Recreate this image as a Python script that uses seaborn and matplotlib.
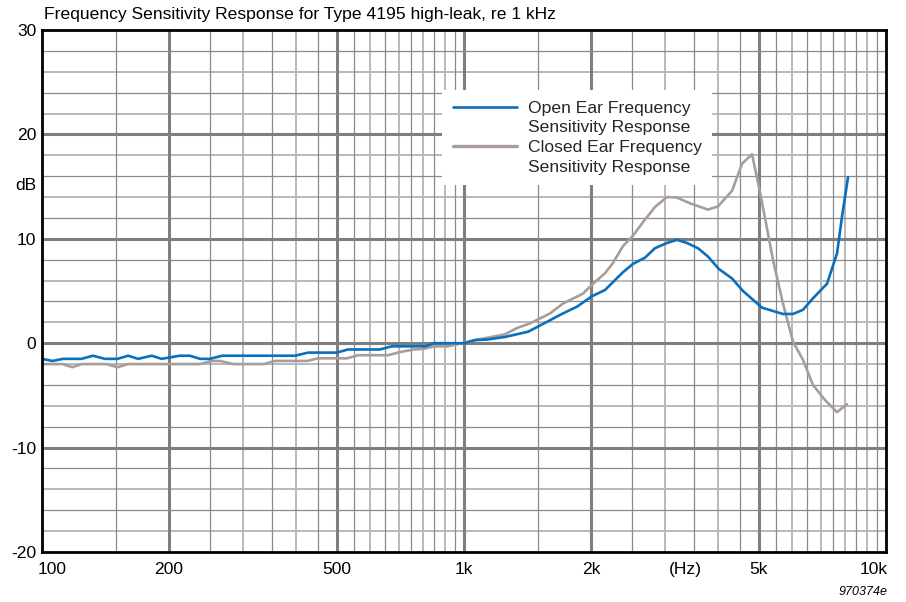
import matplotlib
matplotlib.use("Agg")
import matplotlib.pyplot as plt
import matplotlib.transforms as mtransforms
from matplotlib.lines import Line2D
import seaborn as sns
import pandas as pd

# ---- data ----
open_freq = [100, 106, 112, 124, 132, 141, 151, 160, 169, 182, 192, 212, 224, 237, 250, 267,
             300, 350, 398, 427, 500, 531, 632, 674, 809, 852, 1000, 1062, 1134, 1251, 1419,
             1599, 1706, 1853, 2011, 2159, 2381, 2515, 2686, 2835, 3027, 3197, 3376, 3585,
             3786, 4020, 4317, 4583, 5085, 5700, 6020, 6358, 6714, 7249, 7655, 7865, 8128]
open_db = [-1.5, -1.7, -1.5, -1.5, -1.2, -1.5, -1.5, -1.2, -1.5, -1.2, -1.5, -1.2, -1.2, -1.5,
           -1.5, -1.2, -1.2, -1.2, -1.2, -0.9, -0.9, -0.6, -0.6, -0.3, -0.3, 0.0, 0.0, 0.3,
           0.35, 0.6, 1.1, 2.2, 2.8, 3.5, 4.5, 5.1, 6.8, 7.6, 8.2, 9.1, 9.6, 9.9, 9.6, 9.1,
           8.3, 7.1, 6.2, 5.0, 3.4, 2.8, 2.8, 3.2, 4.3, 5.7, 8.6, 12.1, 15.9]

closed_freq = [100, 112, 118, 124, 142, 151, 160, 237, 253, 264, 284, 336, 356, 425, 451, 528,
               562, 661, 706, 760, 800, 852, 915, 1005, 1062, 1251, 1335, 1434, 1599, 1716,
               1914, 2022, 2159, 2255, 2381, 2515, 2656, 2835, 3027, 3197, 3431, 3786, 3998,
               4317, 4560, 4814, 5028, 5397, 5700, 6020, 6358, 6714, 7170, 7655, 8083]
closed_db = [-2.0, -2.0, -2.3, -2.0, -2.0, -2.3, -2.0, -2.0, -1.7, -1.7, -2.0, -2.0, -1.7, -1.7,
             -1.45, -1.45, -1.15, -1.15, -0.85, -0.6, -0.55, -0.3, -0.3, 0.05, 0.3, 0.85, 1.45,
             1.9, 2.85, 3.8, 4.75, 5.7, 6.7, 7.7, 9.3, 10.3, 11.6, 13.05, 14.0, 13.95, 13.4,
             12.8, 13.1, 14.6, 17.2, 18.1, 14.5, 8.0, 3.8, 0.15, -1.6, -4.0, -5.45, -6.6, -5.85]

x_tick_vals = [100, 200, 500, 1000, 2000, 3340, 5000, 10000]
x_tick_labels = ["100", "200", "500", "1k", "2k", "(Hz)", "5k", "10k"]
y_tick_vals = [-20, -10, 0, 10, 20, 30]
y_tick_labels = ["-20", "-10", "0", "10", "20", "30"]

series_labels = ["Open Ear Frequency\nSensitivity Response",
                 "Closed Ear Frequency\nSensitivity Response"]
title = "Frequency Sensitivity Response for Type 4195 high-leak, re 1 kHz"

BLUE = "#0a6fbd"
GREY = "#a89d99"

sns.set_theme(style="white")
plt.rcParams["font.family"] = ["Liberation Sans", "DejaVu Sans"]
FS = 12.6

fig = plt.figure(figsize=(9.06, 6.02), dpi=100)
ax = fig.add_axes([42 / 906, 1 - 552 / 602, (886 - 42) / 906, (552 - 30) / 602])
ax.set_facecolor("white")

# ---- grid ----
MAJ = dict(color="#7f7f7f", lw=2.2, zorder=1)
DARK = dict(color="#8a8a8a", lw=0.9, zorder=1)
LIGHT = dict(color="#b9b9b9", lw=1.4, zorder=0.9)
for dec in (100, 1000):
    for k in range(3, 20):
        v = dec * k / 2
        if v in (200, 500, 2000, 5000):
            continue
        ax.axvline(v, **(LIGHT if k % 2 == 0 else DARK))
for v in (200, 500, 1000, 2000, 5000):
    ax.axvline(v, **MAJ)
for v in range(-18, 30, 2):
    if v % 10 == 0:
        ax.axhline(v, **MAJ)
    elif v % 4 == 0:
        ax.axhline(v, **DARK)
    else:
        ax.axhline(v, **LIGHT)

# ---- curves ----
df_open = pd.DataFrame({"freq": open_freq, "db": open_db})
df_closed = pd.DataFrame({"freq": closed_freq, "db": closed_db})
sns.lineplot(data=df_closed, x="freq", y="db", color=GREY, lw=1.9, ax=ax, zorder=3)
sns.lineplot(data=df_open, x="freq", y="db", color=BLUE, lw=1.9, ax=ax, zorder=4)

ax.set_xscale("log")
ax.set_xlim(100, 10000)
ax.set_ylim(-20, 30)
ax.set_xlabel("")
ax.set_ylabel("")
ax.minorticks_off()
ax.set_xticks(x_tick_vals)
ax.set_xticklabels(x_tick_labels, fontsize=FS)
ax.set_yticks(y_tick_vals)
ax.set_yticklabels(y_tick_labels, fontsize=FS)
ax.tick_params(axis="both", length=0, colors="black")
ax.tick_params(axis="x", pad=7)
ax.tick_params(axis="y", pad=4)
xl = ax.get_xticklabels()
xl[0].set_horizontalalignment("left")
xl[0].set_transform(xl[0].get_transform() +
                    mtransforms.ScaledTranslation(-4 / 100, 0, fig.dpi_scale_trans))
xl[-1].set_horizontalalignment("right")
xl[-1].set_transform(xl[-1].get_transform() +
                     mtransforms.ScaledTranslation(2 / 100, 0, fig.dpi_scale_trans))

for s in ax.spines.values():
    s.set_visible(True)
    s.set_color("black")
    s.set_linewidth(2.0)
    s.set_zorder(5)

# ---- legend ----
handles = [Line2D([], [], color=BLUE, lw=1.9),
           Line2D([], [], color="none", lw=1.9),
           Line2D([], [], color=GREY, lw=2.4),
           Line2D([], [], color="none", lw=1.9)]
labels = series_labels[0].split("\n") + series_labels[1].split("\n")
leg = ax.legend(handles, labels, loc="upper left",
                bbox_to_anchor=(442 / 906, 1 - 90 / 602), bbox_transform=fig.transFigure,
                borderaxespad=0, fontsize=FS, frameon=True, fancybox=False,
                framealpha=1, facecolor="white", edgecolor="white",
                handlelength=3.7, handletextpad=0.6, labelspacing=0.25, borderpad=0.6)
leg.set_zorder(6)
leg.get_frame().set_linewidth(0)

# ---- texts ----
fig.text(44 / 906, 1 - 19 / 602, title, fontsize=FS, ha="left", va="baseline", color="black")
fig.text(36 / 906, 1 - 185 / 602, "dB", fontsize=FS, ha="right", va="center", color="black")
fig.text(888 / 906, 1 - 592 / 602, "970374e", fontsize=9, style="italic",
         ha="right", va="center", color="black")

fig.savefig("out.png", dpi=100, facecolor="white")
